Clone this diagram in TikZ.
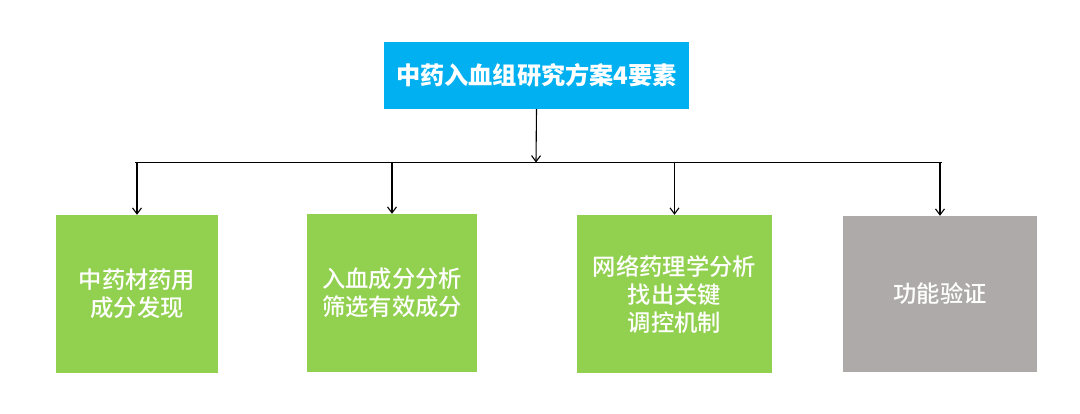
\documentclass[tikz,border=0pt]{standalone}
\usepackage{fontspec}
\setmainfont{Noto Sans CJK SC}
\newfontfamily\cjkm{Noto Sans CJK SC Medium}
\usetikzlibrary{arrows.meta}
\definecolor{titleblue}{HTML}{00B0F0}
\definecolor{boxgreen}{HTML}{92D050}
\definecolor{boxgray}{HTML}{AEAAAA}
\tikzset{
  x=1pt, y=-1pt,
  titlebox/.style={fill=titleblue, draw=none, text=white, minimum width=305pt, minimum height=67pt, inner sep=0pt, font=\fontsize{24.2}{28}\selectfont\bfseries, align=center},
  itembox/.style={draw=none, text=white, inner sep=0pt, font=\cjkm\fontsize{23.3}{28}\selectfont, align=center},
  conn/.style={draw=black, line width=1.1pt, -{Straight Barb[length=6pt,width=9pt,line width=1.1pt]}},
  bus/.style={draw=black, line width=1.6pt}
}
\begin{document}
\begin{tikzpicture}
\useasboundingbox (0,0) rectangle (1080,413);
\node[titlebox] (title) at (536.5,75.5) {中药入血组研究方案4要素};
\node[itembox, fill=boxgreen, minimum width=162pt, minimum height=158pt] (b1) at (137,294) {中药材药用\\成分发现};
\node[itembox, fill=boxgreen, minimum width=170pt, minimum height=158pt] (b2) at (392,293) {入血成分分析\\筛选有效成分};
\node[itembox, fill=boxgreen, minimum width=195pt, minimum height=158pt] (b3) at (674.5,294) {网络药理学分析\\找出关键\\调控机制};
\node[itembox, fill=boxgray, minimum width=194pt, minimum height=156pt] (b4) at (940,294) {功能验证};
\coordinate (busL) at (135,162.5);
\coordinate (busR) at (942,162.5);
\coordinate (busM) at (536,162.5);
\draw[bus] (busL) -- (busR);
\draw[conn] (title.south) -- (busM);
\foreach \b in {b1,b2,b3,b4}{
  \draw[conn] (\b.north |- busL) -- (\b.north);
}
\end{tikzpicture}
\end{document}
